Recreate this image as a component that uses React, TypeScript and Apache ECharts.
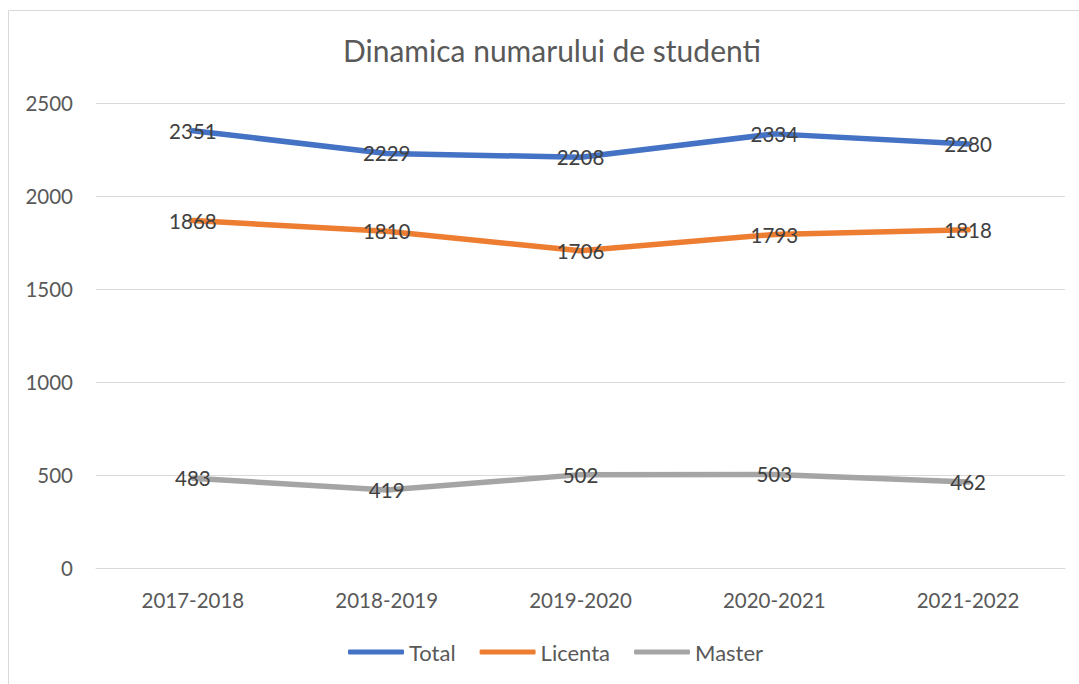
import React, { useEffect, useRef } from "react";
import * as echarts from "echarts";

const categories = ["2017-2018", "2018-2019", "2019-2020", "2020-2021", "2021-2022"];
const totalValues = [2351, 2229, 2208, 2334, 2280];
const licentaValues = [1868, 1810, 1706, 1793, 1818];
const masterValues = [483, 419, 502, 503, 462];
const seriesNames = ["Total", "Licenta", "Master"];
const seriesColors = ["#4472C4", "#ED7D31", "#A5A5A5"];
const titleText = "Dinamica numarului de studenti";

const FONT = "Lato, 'Noto Sans', sans-serif";

export default function App() {
  const ref = useRef<HTMLDivElement>(null);
  useEffect(() => {
    const chart = echarts.init(ref.current!, null, { renderer: "svg" });
    const datasets = [totalValues, licentaValues, masterValues];
    chart.setOption({
      animation: false,
      textStyle: { fontFamily: FONT },
      title: {
        text: titleText,
        left: 338,
        top: 30,
        textStyle: { fontFamily: FONT, fontSize: 30, fontWeight: "normal", color: "#595959" },
      },
      graphic: [
        {
          type: "rect",
          shape: { x: 8.5, y: 10.5, width: 1100, height: 700 },
          style: { fill: "none", stroke: "#D9D9D9", lineWidth: 1 },
          silent: true,
        },
      ],
      grid: { left: 96, right: 14, top: 103, bottom: 116 },
      legend: {
        bottom: 16,
        left: 343,
        icon: "roundRect",
        itemWidth: 56,
        itemHeight: 5,
        itemGap: 24,
        textStyle: { fontFamily: FONT, fontSize: 22, color: "#595959" },
        data: seriesNames,
      },
      xAxis: {
        type: "category",
        data: categories,
        boundaryGap: true,
        axisLine: { show: true, lineStyle: { color: "#D9D9D9", width: 1 } },
        axisTick: { show: false },
        axisLabel: { fontFamily: FONT, fontSize: 20.5, color: "#595959", margin: 21 },
      },
      yAxis: {
        type: "value",
        min: 0,
        max: 2500,
        interval: 500,
        axisLine: { show: false },
        axisTick: { show: false },
        axisLabel: {
          fontFamily: FONT,
          fontSize: 20.5,
          color: "#595959",
          margin: 23,
          formatter: (v: number) => String(v),
        },
        splitLine: { lineStyle: { color: "#D9D9D9", width: 1 } },
      },
      series: seriesNames.map((name, i) => ({
        name,
        type: "line",
        data: datasets[i],
        symbol: "circle",
        symbolSize: 2,
        showSymbol: true,
        lineStyle: { color: seriesColors[i], width: 5.5, cap: "round", join: "round" },
        itemStyle: { color: seriesColors[i] },
        label: {
          show: true,
          position: "inside",
          fontFamily: FONT,
          fontSize: 20.5,
          color: "#404040",
        },
        z: 2,
      })),
    });
    return () => chart.dispose();
  }, []);
  return (
    <div
      ref={ref}
      style={{ position: "absolute", left: 0, top: 0, width: 1079, height: 684, background: "#fff" }}
    />
  );
}
